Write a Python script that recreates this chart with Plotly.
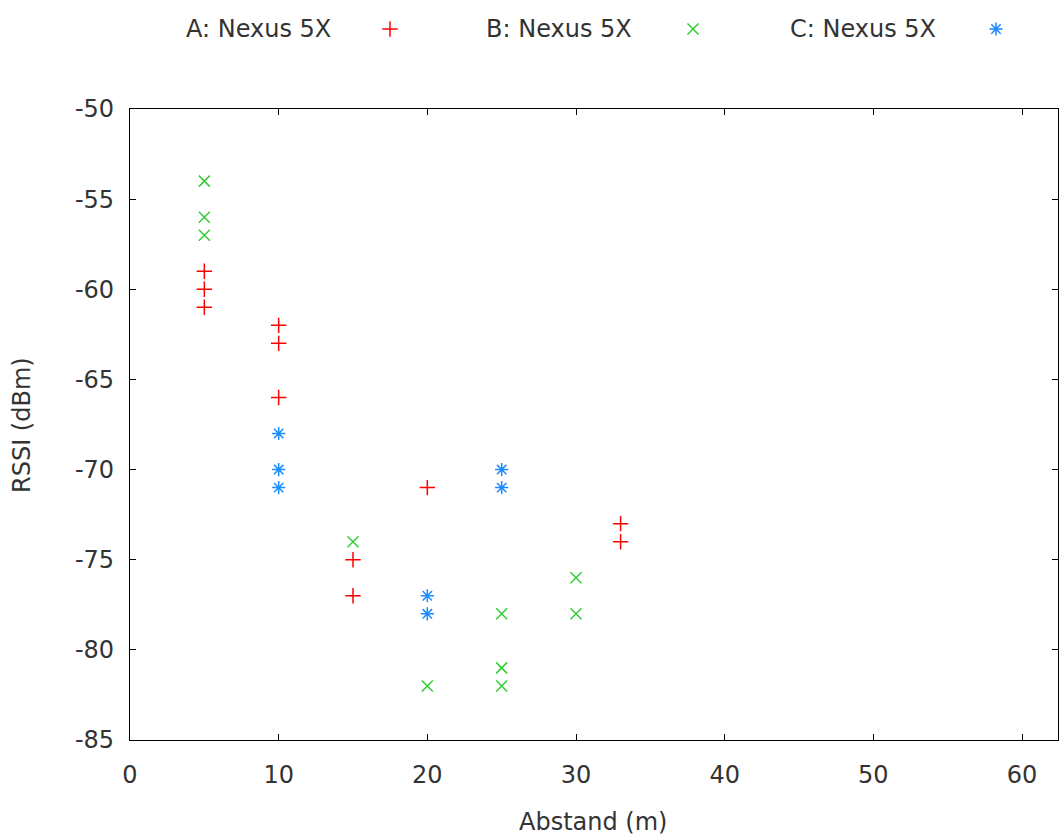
import plotly.graph_objects as go

# Data
a_x = [5, 5, 5, 10, 10, 10, 15, 15, 20, 33, 33]
a_y = [-59, -60, -61, -62, -63, -66, -75, -77, -71, -73, -74]
b_x = [5, 5, 5, 15, 20, 25, 25, 25, 30, 30]
b_y = [-54, -56, -57, -74, -82, -78, -81, -82, -76, -78]
c_x = [10, 10, 10, 20, 20, 25, 25]
c_y = [-68, -70, -71, -77, -78, -70, -71]
names = ["A: Nexus 5X", "B: Nexus 5X", "C: Nexus 5X"]
colors = ["#ff0000", "#33cc33", "#1a8cff"]
symbols = ["cross-thin-open", "x-thin-open", "asterisk-open"]
x_ticks = [0, 10, 20, 30, 40, 50, 60]
y_ticks = [-50, -55, -60, -65, -70, -75, -80, -85]
y_ticklabels = ["-50", "-55", "-60", "-65", "-70", "-75", "-80", "-85"]
x_title = "Abstand (m)"
y_title = "RSSI (dBm)"

FONT = "DejaVu Sans"
FS = 24
TXT = "#333333"
W, H = 1059, 835
L, R, T, B = 130, 1, 109, 95
MS = 11

fig = go.Figure()
for xs, ys, nm, col, sym in zip([a_x, b_x, c_x], [a_y, b_y, c_y], names, colors, symbols):
    fig.add_trace(go.Scatter(x=xs, y=ys, mode="markers", name=nm, showlegend=False,
                             marker=dict(symbol=sym, size=MS, color=col,
                                         line=dict(color=col, width=1.5))))

# manual legend (text left, marker right), on a hidden pixel-space axis
leg_text_x = [333, 634, 938]
leg_mark_x = [390, 693, 996]
leg_y = 29
for i in range(3):
    fig.add_annotation(x=leg_text_x[i], y=leg_y, xref="x2", yref="y2", text=names[i],
                       showarrow=False, xanchor="right", yanchor="middle",
                       font=dict(family=FONT, size=FS, color=TXT))
    fig.add_trace(go.Scatter(x=[leg_mark_x[i]], y=[leg_y], xaxis="x2", yaxis="y2",
                             mode="markers", showlegend=False, hoverinfo="skip",
                             marker=dict(symbol=symbols[i], size=MS, color=colors[i],
                                         line=dict(color=colors[i], width=1.5))))

# axis titles
fig.add_annotation(x=593, y=822, xref="x2", yref="y2", text=x_title, showarrow=False,
                   xanchor="center", yanchor="middle", font=dict(family=FONT, size=FS, color=TXT))
fig.add_annotation(x=22, y=425, xref="x2", yref="y2", text=y_title, showarrow=False, textangle=-90,
                   xanchor="center", yanchor="middle", font=dict(family=FONT, size=FS, color=TXT))

fig.update_layout(
    width=W, height=H,
    margin=dict(l=0, r=0, t=0, b=0, autoexpand=False),
    paper_bgcolor="white", plot_bgcolor="rgba(0,0,0,0)",
    font=dict(family=FONT, size=FS, color=TXT),
    showlegend=False,
    xaxis=dict(domain=[L / W, (W - R) / W], anchor="y",
               range=[0, (W - L - R) / 892 * 60], tickvals=x_ticks,
               showgrid=False, zeroline=False, showline=True, mirror="ticks",
               linecolor="#000000", linewidth=1.2, ticks="inside", ticklen=6,
               tickcolor="#000000", tickfont=dict(family=FONT, size=FS, color=TXT),
               ticklabelstandoff=13, automargin=False),
    yaxis=dict(domain=[B / H, (H - T) / H], anchor="x",
               range=[-85, -50], tickvals=y_ticks, ticktext=y_ticklabels,
               showgrid=False, zeroline=False, showline=True, mirror="ticks",
               linecolor="#000000", linewidth=1.2, ticks="inside", ticklen=6,
               tickcolor="#000000", tickfont=dict(family=FONT, size=FS, color=TXT),
               ticklabelstandoff=10, automargin=False),
    xaxis2=dict(range=[0, W], domain=[0, 1], visible=False, fixedrange=True, anchor="y2"),
    yaxis2=dict(range=[H, 0], domain=[0, 1], visible=False, fixedrange=True, anchor="x2"),
)

fig.write_html("out.html")
